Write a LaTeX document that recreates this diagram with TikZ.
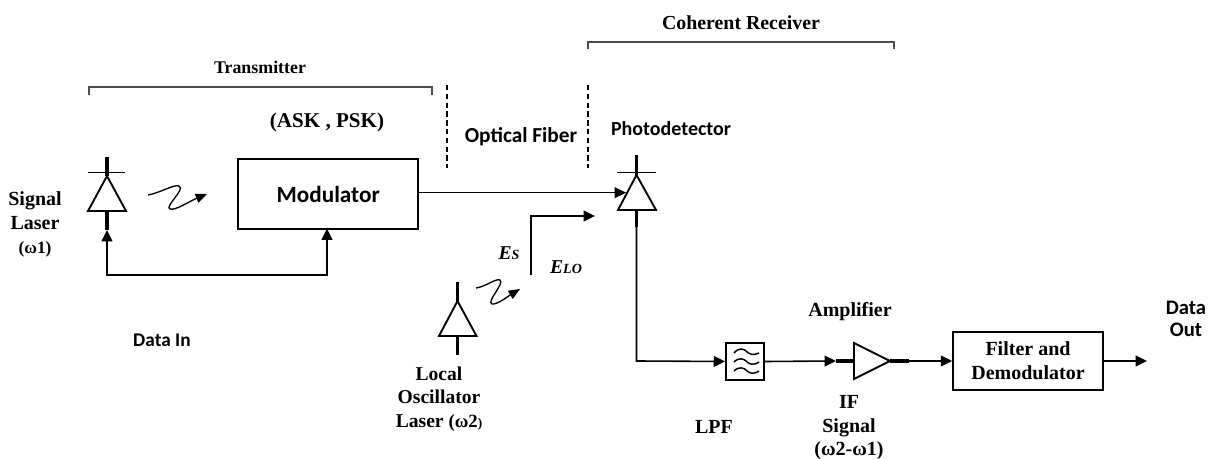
\documentclass[tikz,border=0pt]{standalone}
\usepackage{fontspec}
\setmainfont{Liberation Serif}
\newfontfamily\calfont{Carlito}
\usetikzlibrary{arrows.meta}
\tikzset{
  x=0.75pt,y=-0.75pt,
  wire/.style={line width=1.2pt,black},
  arrowline/.style={wire,-{Triangle[length=8.5pt,width=8pt]}},
  stub/.style={line width=2.3pt},
  diode/.style={line width=1.4pt,line join=miter},
  boxed/.style={draw,line width=1.7pt,inner sep=0pt,align=center},
  bracket/.style={line width=1pt,black!70},
  fiber/.style={line width=0.9pt,dash pattern=on 4pt off 2.6pt},
  lab/.style={font=\bfseries\fontsize{13.4}{17.6}\selectfont,align=center,inner sep=0pt},
  labs/.style={font=\calfont\bfseries\fontsize{14.5}{17}\selectfont,align=center,inner sep=0pt},
}
\begin{document}
\begin{tikzpicture}
\useasboundingbox (0,0) rectangle (1211,459);
% brackets
\coordinate (t1) at (89,95); \coordinate (t2) at (432,95);
\draw[bracket] (t1) -- (89,87) -- (432,87) -- (t2);
\coordinate (c1) at (588,49); \coordinate (c2) at (894,49);
\draw[bracket] (c1) -- (588,42) -- (894,42) -- (c2);
\node[lab] (ttx) at (260,67) {Transmitter};
\node[lab,font=\bfseries\fontsize{14.9}{17}\selectfont] (tcr) at (741,23) {Coherent Receiver};
\node[lab,font=\bfseries\fontsize{15.8}{18}\selectfont] (task) at (327,122) {(ASK , PSK)};
\node[labs,font=\calfont\bfseries\fontsize{16}{18}\selectfont] (tof) at (521,137) {Optical Fiber};
\node[labs,font=\calfont\bfseries\fontsize{15}{18}\selectfont] (tpd) at (671,129) {Photodetector};
% dashed
\coordinate (d1) at (447,85); \coordinate (d2) at (447,168);
\coordinate (d3) at (588,85); \coordinate (d4) at (588,168);
\draw[fiber] (d1) -- (d2);
\draw[fiber] (d3) -- (d4);
% signal laser
\coordinate (sla) at (107,176);
\draw[diode] (sla) -- (126,211) -- (88,211) -- cycle;
\draw[line width=0.9pt] (88,172.5) -- (125,172.5);
\draw[stub] (107,157) -- (sla);
\coordinate (slb) at (107,230);
\draw[stub] (107,211) -- (slb);
\node[lab,font=\bfseries\fontsize{15}{18}\selectfont] (tsl) at (35,224) {Signal\\Laser\\{\fontsize{13}{14}\selectfont(ω1)}};
% modulator
\node[boxed,minimum width=135pt,minimum height=52.5pt,anchor=north west,font=\calfont\bfseries\fontsize{17.4}{20}\selectfont] (mod) at (237,158) {Modulator};
% data feedback
\coordinate (fb) at (217,275);
\draw[arrowline] (fb) -- (107,275) -- (slb);
\draw[arrowline] (fb) -- (327,275) -- (327,228.5);
\node[labs] (tdi) at (162,340) {Data In};
% wave 1
\coordinate (w1s) at (148,195);
\coordinate (w1e) at (207,194);
\draw[line width=1pt,-{Triangle[length=8.5pt,width=7pt]}] (w1s) .. controls (160,193) and (174,184) .. (179,186) .. controls (186,189) and (164,207) .. (170,209) .. controls (175,211) and (190,201) .. (w1e);
% main line
\coordinate (pdin) at (626,192.7);
\draw[arrowline] (mod.east |- pdin) -- (pdin);
% photodetector
\coordinate (pda) at (636.5,175);
\draw[diode] (pda) -- (656,210) -- (618,210) -- cycle;
\draw[line width=0.9pt] (617,172.7) -- (656,172.7);
\draw[stub] (636.5,155) -- (pda);
\draw[stub] (636.5,210) -- (636.5,227);
% LO path
\coordinate (lo1) at (531,275);
\coordinate (lo2) at (595,216);
\draw[arrowline] (lo1) -- (531,216) -- (lo2);
\node[font=\bfseries\itshape\fontsize{14.7}{16}\selectfont,inner sep=0pt] (es) at (509,253) {E{\fontsize{10.5}{12}\selectfont S}};
\node[font=\bfseries\itshape\fontsize{14.7}{16}\selectfont,inner sep=0pt] (elo) at (566,267) {E{\fontsize{10.5}{12}\selectfont LO}};
% local laser
\coordinate (lla) at (457.5,301);
\draw[diode] (lla) -- (476.5,336) -- (439,336) -- cycle;
\draw[stub] (457.5,282) -- (lla);
\draw[stub] (457.5,336) -- (457.5,355);
\coordinate (w2s) at (476,288);
\coordinate (w2e) at (520,289);
\draw[line width=1pt,-{Triangle[length=8.5pt,width=7pt]}] (w2s) .. controls (485,287) and (496,278) .. (500,280) .. controls (505,283) and (486,302) .. (492,304) .. controls (497,305) and (510,295) .. (w2e);
\node[lab,font=\bfseries\fontsize{14.7}{17.6}\selectfont] (tlo) at (439,399) {Local\\Oscillator\\Laser {\fontsize{14}{13}\selectfont(ω2}{\fontsize{10}{10}\selectfont)}};
% lower chain
\node[boxed,line width=1.4pt,minimum width=28.5pt,minimum height=27.75pt] (lpf) at (745,361.5) {};
\draw[line width=1.1pt,shift={(745,351)}]
  (-11,2) .. controls (-6,-4) and (-1,-2) .. (1,0) .. controls (4,3) and (8,5) .. (14,2);
\draw[line width=1.1pt,shift={(745,362)}]
  (-11,0) .. controls (-6,-5) and (-1,-3) .. (1,-1) .. controls (4,2) and (8,4) .. (14,0);
\draw[line width=1.1pt,shift={(745,372)}]
  (-11,-1) .. controls (-6,-6) and (-1,-4) .. (1,-2) .. controls (4,1) and (8,3) .. (14,-1);
\draw[arrowline] (636.5,227) -- (636.5,361) -- (lpf.west);
\coordinate (amin) at (854,361);
\coordinate (amout) at (890,361);
\draw[diode] (amin) -- (854,343) -- (amout) -- (854,379) -- cycle;
\coordinate (amst) at (836,361);
\draw[arrowline] (lpf.east) -- (amst);
\draw[stub] (amst) -- (amin);
\coordinate (amot) at (909,361);
\draw[stub] (amout) -- (amot);
\node[boxed,minimum width=112pt,minimum height=43.5pt,font=\bfseries\fontsize{15}{18}\selectfont] (fd) at (1028,361) {Filter and\\Demodulator};
\draw[arrowline] (amot) -- (fd.west |- amot);
\coordinate (out) at (1147,361);
\draw[arrowline] (fd.east |- out) -- (out);
\node[labs,font=\calfont\bfseries\fontsize{15.5}{16.5}\selectfont] (tdo) at (1186,319) {Data\\Out};
\node[lab,font=\bfseries\fontsize{15}{17}\selectfont] (tam) at (850,312) {Amplifier};
\node[lab,font=\bfseries\fontsize{15}{18}\selectfont] (tlp) at (714,427) {LPF};
\node[lab,font=\bfseries\fontsize{15}{17.6}\selectfont] (tif) at (849,428) {IF\\Signal\\(ω2-ω1)};
\end{tikzpicture}
\end{document}
